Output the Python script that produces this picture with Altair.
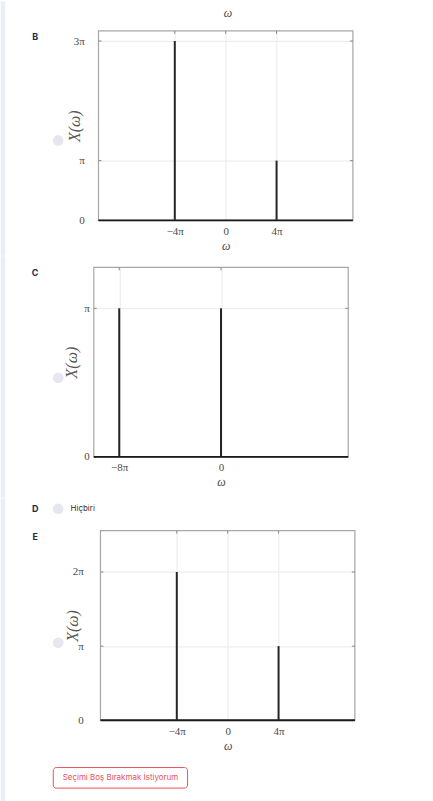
import altair as alt
import pandas as pd

# ---------------- data (frequencies and amplitudes in units of pi) ----------------
X_DOMAIN = [-10, 10]

B_FREQ = [-4, 4]
B_AMP = [3, 1]
B_X_TICKS = [-4, 0, 4]
B_X_LABELS = ["−4π", "0", "4π"]
B_Y_TICKS = [0, 1, 3]
B_Y_LABELS = ["0", "π", "3π"]
B_Y_MAX = 3.17

C_FREQ = [-8, 0]
C_AMP = [1, 1]
C_X_TICKS = [-8, 0]
C_X_LABELS = ["−8π", "0"]
C_Y_TICKS = [0, 1]
C_Y_LABELS = ["0", "π"]
C_Y_MAX = 1.276

E_FREQ = [-4, 4]
E_AMP = [2, 1]
E_X_TICKS = [-4, 0, 4]
E_X_LABELS = ["−4π", "0", "4π"]
E_Y_TICKS = [0, 1, 2]
E_Y_LABELS = ["0", "π", "2π"]
E_Y_MAX = 2.557

LETTERS = ["B", "C", "D", "E"]
NONE_TEXT = "Hiçbiri"
BUTTON_TEXT = "Seçimi Boş Bırakmak İstiyorum"
X_TITLE = "ω"
Y_TITLE = "X(ω)"

# ---------------- styling / layout ----------------
PLOT_W, H = 255, 190
G = 93.3            # common left origin of all panels on the page
GROUP_W = 262
PAGE_W = 433
SERIF = "Liberation Serif"
SANS = "Inter"
TXT = "#4a4a4a"
NAVY = "#1e2a4a"
RADIO = "#e5e6ef"
STRIP = "#eceef7"
RED = "#ea4f5c"
FRAME = "#a6a6a6"
GRID = "#e9e9e9"
ONE = pd.DataFrame({"k": [0]})


def label_expr(ticks, labels):
    expr = "''"
    for t, l in zip(reversed(ticks), reversed(labels)):
        expr = f"datum.value == {t} ? '{l}' : ({expr})"
    return expr


def panel(freq, amp, xt, xl, yt, yl, ymax, left, top, seg, title_x, ylab_pad, decos):
    off = left - G

    def rx(px):
        return px - G

    def ry(py):
        return py - top

    xenc = alt.X(
        "w:Q",
        scale=alt.Scale(domain=X_DOMAIN, nice=False, zero=False, range=[off, off + PLOT_W]),
        axis=alt.Axis(
            values=xt, labelExpr=label_expr(xt, xl), title=X_TITLE,
            domain=False, ticks=False, grid=True, gridColor=GRID,
            labelFont=SERIF, labelFontSize=11, labelColor=TXT, labelPadding=5,
            titleFont=SERIF, titleFontStyle="italic", titleFontWeight="normal",
            titleFontSize=12, titleColor=TXT, titlePadding=4,
        ),
    )
    yenc = alt.Y(
        "a:Q",
        scale=alt.Scale(domain=[0, ymax], nice=False, zero=False),
        axis=alt.Axis(
            values=yt, labelExpr=label_expr(yt, yl), title=Y_TITLE,
            domain=False, ticks=False, grid=True, gridColor=GRID,
            labelFont=SERIF, labelFontSize=11, labelColor=TXT, labelPadding=ylab_pad,
            titleFont=SERIF, titleFontStyle="italic", titleFontWeight="normal",
            titleFontSize=16, titleColor="#555555",
            titleX=title_x, titleY=H / 2, titleAngle=270,
            titleAlign="center", titleBaseline="middle",
        ),
    )
    spikes = pd.DataFrame({"w": freq, "a": amp, "z": [0] * len(freq)})
    frame = pd.DataFrame({"w": [X_DOMAIN[0]], "w2": [X_DOMAIN[1]], "a": [0], "a2": [ymax]})
    base = pd.DataFrame({"w": [X_DOMAIN[0]], "w2": [X_DOMAIN[1]], "a": [0]})
    top_ticks = pd.DataFrame({"w": xt, "a": [ymax] * len(xt)})
    left_ticks = pd.DataFrame({"w": [X_DOMAIN[0]] * len(yt), "a": yt})
    right_ticks = pd.DataFrame({"w": [X_DOMAIN[1]] * len(yt), "a": yt})

    layers = []
    # page strip on the left (also fixes this panel's vertical extent in the column)
    layers.append(
        alt.Chart(ONE).mark_rect(color=STRIP).encode(
            x=alt.value(rx(0)), x2=alt.value(rx(4.5)),
            y=alt.value(ry(seg[0])), y2=alt.value(ry(seg[1])),
        )
    )
    layers.append(
        alt.Chart(ONE).mark_rect(opacity=0).encode(
            x=alt.value(rx(0)), x2=alt.value(rx(PAGE_W)),
            y=alt.value(ry(seg[0])), y2=alt.value(ry(seg[1])),
        )
    )
    layers.append(
        alt.Chart(spikes).mark_rule(color="#262626", strokeWidth=2).encode(
            x=xenc, y=yenc, y2=alt.Y2("z")
        )
    )
    layers.append(
        alt.Chart(frame).mark_rect(fillOpacity=0, stroke=FRAME, strokeWidth=1.2).encode(
            x=xenc, x2=alt.X2("w2"), y=yenc, y2=alt.Y2("a2")
        )
    )
    layers.append(
        alt.Chart(top_ticks).mark_rule(color="#8a8a8a", strokeWidth=1, y2Offset=3).encode(
            x=xenc, y=yenc, y2=alt.Y2("a")
        )
    )
    layers.append(
        alt.Chart(left_ticks).mark_rule(color="#8a8a8a", strokeWidth=1, x2Offset=3).encode(
            x=xenc, x2=alt.X2("w"), y=yenc
        )
    )
    layers.append(
        alt.Chart(right_ticks).mark_rule(color="#8a8a8a", strokeWidth=1, x2Offset=-3).encode(
            x=xenc, x2=alt.X2("w"), y=yenc
        )
    )
    layers.append(
        alt.Chart(base).mark_rule(color="#1a1a1a", strokeWidth=1.8).encode(
            x=xenc, x2=alt.X2("w2"), y=yenc
        )
    )
    for d in decos:
        kind = d[0]
        if kind == "letter":
            _, txt, px, py = d
            layers.append(
                alt.Chart(ONE).mark_text(
                    text=txt, font=SANS, fontSize=9, fontWeight="bold",
                    color=NAVY, align="center", baseline="middle",
                ).encode(x=alt.value(rx(px)), y=alt.value(ry(py)))
            )
        elif kind == "radio":
            _, px, py = d
            layers.append(
                alt.Chart(ONE).mark_circle(size=113, color=RADIO, opacity=1).encode(
                    x=alt.value(rx(px)), y=alt.value(ry(py))
                )
            )
        elif kind == "text":
            _, txt, px, py, font, size, color, style, align = d
            layers.append(
                alt.Chart(ONE).mark_text(
                    text=txt, font=font, fontSize=size, color=color,
                    fontStyle=style, align=align, baseline="middle",
                ).encode(x=alt.value(rx(px)), y=alt.value(ry(py)))
            )
        elif kind == "button":
            _, x1, x2, y1, y2 = d
            layers.append(
                alt.Chart(ONE).mark_rect(
                    fill="white", stroke=RED, strokeWidth=1, cornerRadius=3
                ).encode(
                    x=alt.value(rx(x1)), x2=alt.value(rx(x2)),
                    y=alt.value(ry(y1)), y2=alt.value(ry(y2)),
                )
            )
            layers.append(
                alt.Chart(ONE).mark_text(
                    text=BUTTON_TEXT, font=SANS, fontSize=8, color=RED,
                    align="center", baseline="middle",
                ).encode(x=alt.value(rx((x1 + x2) / 2)), y=alt.value(ry((y1 + y2) / 2)))
            )
    return alt.layer(*layers).properties(width=GROUP_W, height=H)


panel_b = panel(
    B_FREQ, B_AMP, B_X_TICKS, B_X_LABELS, B_Y_TICKS, B_Y_LABELS, B_Y_MAX,
    left=98, top=29.5, seg=(0, 255), title_x=74 - G, ylab_pad=9.5,
    decos=[
        ("text", X_TITLE, 227.7, 11.5, SERIF, 12, TXT, "italic", "center"),
        ("letter", LETTERS[0], 34.5, 35.5),
        ("radio", 57.5, 139.3),
    ],
)
panel_c = panel(
    C_FREQ, C_AMP, C_X_TICKS, C_X_LABELS, C_Y_TICKS, C_Y_LABELS, C_Y_MAX,
    left=93.3, top=266, seg=(255, 497), title_x=71 - G, ylab_pad=4.5,
    decos=[
        ("letter", LETTERS[1], 34.5, 271.7),
        ("radio", 57.7, 376.7),
    ],
)
panel_e = panel(
    E_FREQ, E_AMP, E_X_TICKS, E_X_LABELS, E_Y_TICKS, E_Y_LABELS, E_Y_MAX,
    left=100, top=529.3, seg=(497, 801), title_x=72 - G, ylab_pad=10.5,
    decos=[
        ("letter", LETTERS[2], 34.5, 507.7),
        ("radio", 57.5, 507.3),
        ("text", NONE_TEXT, 70, 507.3, SANS, 8, "#333333", "normal", "left"),
        ("letter", LETTERS[3], 34.5, 535.7),
        ("radio", 57.7, 641.7),
        ("button", 52.7, 187.3, 766.7, 787.3),
    ],
)

chart = (
    alt.vconcat(panel_b, panel_c, panel_e, spacing=0)
    .properties(padding=0, background="white")
    .configure_view(stroke=None)
)

chart.save("out.html", embed_options={"renderer": "svg", "actions": False})
